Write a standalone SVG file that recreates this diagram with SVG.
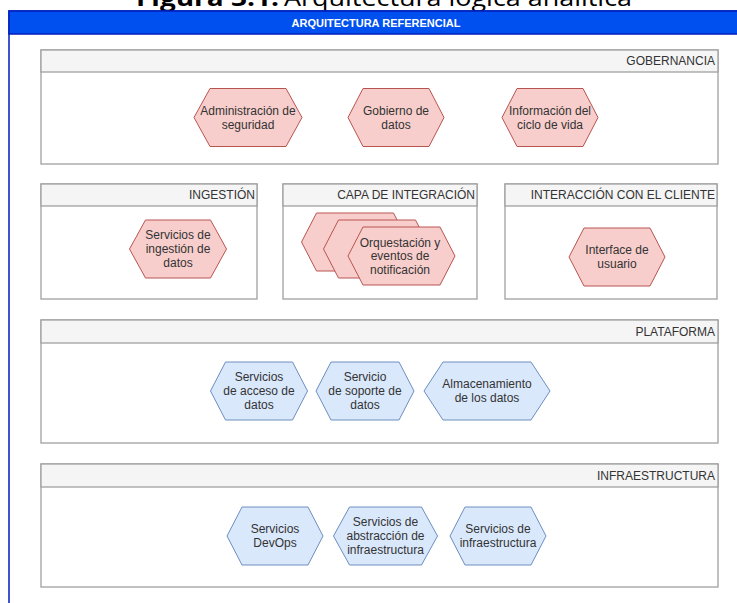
<svg xmlns="http://www.w3.org/2000/svg" width="737" height="603" viewBox="0 0 737 603">
  <style>
    .title { font-family: "Open Sans", "Liberation Sans", sans-serif; font-size: 24px; fill: #000; }
    .bar-label { font-family: "Liberation Sans", Arial, sans-serif; font-size: 11px; font-weight: bold; fill: #fff; text-anchor: middle; }
    .lane { fill: #fff; stroke: #a0a0a0; stroke-width: 1.3; }
    .lane-head { fill: #f5f5f5; stroke: #a0a0a0; stroke-width: 1.3; }
    .lane-label { font-family: "Liberation Sans", Arial, sans-serif; font-size: 12px; fill: #333; text-anchor: end; }
    .hex-red { fill: #f8cecc; stroke: #b85450; stroke-width: 1; }
    .hex-blue { fill: #dae8fc; stroke: #6c8ebf; stroke-width: 1; }
    .hex-text { font-family: "Liberation Sans", Arial, sans-serif; font-size: 12px; fill: #333; text-anchor: middle; }
  </style>

  <rect x="0" y="0" width="737" height="603" fill="#fff"/>

  <!-- Caption, partly cut by the top edge -->
  <text class="title" x="136" y="6" textLength="143" lengthAdjust="spacingAndGlyphs" font-weight="bold">Figura 3.1.</text>
  <text class="title" x="284" y="6" textLength="348" lengthAdjust="spacingAndGlyphs">Arquitectura lógica analítica</text>

  <!-- Outer container -->
  <g id="arquitectura-referencial">
    <rect x="9" y="11" width="740" height="600" fill="#fff" stroke="#001dbc" stroke-width="1.5"/>
    <rect x="9" y="11" width="740" height="23" fill="#0050ef" stroke="#001dbc" stroke-width="1.5"/>
    <text class="bar-label" x="376" y="27">ARQUITECTURA REFERENCIAL</text>
  </g>

  <!-- Lanes -->
  <g id="gobernancia">
    <rect class="lane" x="41" y="50" width="677" height="114"/>
    <rect class="lane-head" x="41" y="50" width="677" height="22"/>
    <text class="lane-label" x="715" y="65">GOBERNANCIA</text>
  </g>
  <g id="ingestion">
    <rect class="lane" x="41" y="184" width="216" height="115"/>
    <rect class="lane-head" x="41" y="184" width="216" height="22"/>
    <text class="lane-label" x="255" y="199">INGESTIÓN</text>
  </g>
  <g id="capa-integracion">
    <rect class="lane" x="283" y="184" width="194" height="115"/>
    <rect class="lane-head" x="283" y="184" width="194" height="22"/>
    <text class="lane-label" x="475" y="199">CAPA DE INTEGRACIÓN</text>
  </g>
  <g id="interaccion-cliente">
    <rect class="lane" x="505" y="184" width="212" height="115"/>
    <rect class="lane-head" x="505" y="184" width="212" height="22"/>
    <text class="lane-label" x="715" y="199">INTERACCIÓN CON EL CLIENTE</text>
  </g>
  <g id="plataforma">
    <rect class="lane" x="41" y="320" width="677" height="123"/>
    <rect class="lane-head" x="41" y="320" width="677" height="23"/>
    <text class="lane-label" x="715" y="336">PLATAFORMA</text>
  </g>
  <g id="infraestructura">
    <rect class="lane" x="41" y="464" width="677" height="123"/>
    <rect class="lane-head" x="41" y="464" width="677" height="23"/>
    <text class="lane-label" x="715" y="480">INFRAESTRUCTURA</text>
  </g>

  <!-- Gobernancia nodes -->
  <g id="admin-seguridad">
    <polygon class="hex-red" points="194,117.5 210,88.5 286,88.5 302,117.5 286,146.5 210,146.5"/>
    <text class="hex-text" x="248" y="115">Administración de</text>
    <text class="hex-text" x="248" y="129">seguridad</text>
  </g>
  <g id="gobierno-datos">
    <polygon class="hex-red" points="348,117.5 363,88.5 429,88.5 444,117.5 429,146.5 363,146.5"/>
    <text class="hex-text" x="396" y="115">Gobierno de</text>
    <text class="hex-text" x="396" y="129">datos</text>
  </g>
  <g id="info-ciclo-vida">
    <polygon class="hex-red" points="502,117.5 517,88.5 583,88.5 598,117.5 583,146.5 517,146.5"/>
    <text class="hex-text" x="550" y="115">Información del</text>
    <text class="hex-text" x="550" y="129">ciclo de vida</text>
  </g>

  <!-- Ingestión node -->
  <g id="servicios-ingestion">
    <polygon class="hex-red" points="129.5,249 145.5,220 210.5,220 226.5,249 210.5,278 145.5,278"/>
    <text class="hex-text" x="178" y="239">Servicios de</text>
    <text class="hex-text" x="178" y="253">ingestión de</text>
    <text class="hex-text" x="178" y="267">datos</text>
  </g>

  <!-- Capa de integración: stacked node -->
  <g id="orquestacion-eventos">
    <polygon class="hex-red" points="301.5,242 316.5,213 393.5,213 408.5,242 393.5,271 316.5,271"/>
    <polygon class="hex-red" points="323.5,249 338.5,220 415.5,220 430.5,249 415.5,278 338.5,278"/>
    <polygon class="hex-red" points="348,256 363,227 440,227 455,256 440,285 363,285"/>
    <text class="hex-text" x="400" y="246.5">Orquestación y</text>
    <text class="hex-text" x="400" y="260">eventos de</text>
    <text class="hex-text" x="400" y="273.5">notificación</text>
  </g>

  <!-- Interacción con el cliente node -->
  <g id="interface-usuario">
    <polygon class="hex-red" points="569,257 584,228 650,228 665,257 650,286 584,286"/>
    <text class="hex-text" x="617" y="254">Interface de</text>
    <text class="hex-text" x="617" y="268">usuario</text>
  </g>

  <!-- Plataforma nodes -->
  <g id="acceso-datos">
    <polygon class="hex-blue" points="210.5,391 225.5,362 292.5,362 307.5,391 292.5,420 225.5,420"/>
    <text class="hex-text" x="259" y="381">Servicios</text>
    <text class="hex-text" x="259" y="395">de acceso de</text>
    <text class="hex-text" x="259" y="409">datos</text>
  </g>
  <g id="soporte-datos">
    <polygon class="hex-blue" points="316,391 331,362 399,362 414,391 399,420 331,420"/>
    <text class="hex-text" x="365" y="381">Servicio</text>
    <text class="hex-text" x="365" y="395">de soporte de</text>
    <text class="hex-text" x="365" y="409">datos</text>
  </g>
  <g id="almacenamiento-datos">
    <polygon class="hex-blue" points="424,391 443,362 531,362 550,391 531,420 443,420"/>
    <text class="hex-text" x="487" y="388">Almacenamiento</text>
    <text class="hex-text" x="487" y="402">de los datos</text>
  </g>

  <!-- Infraestructura nodes -->
  <g id="servicios-devops">
    <polygon class="hex-blue" points="227,536 242,507 308,507 323,536 308,565 242,565"/>
    <text class="hex-text" x="275" y="533">Servicios</text>
    <text class="hex-text" x="275" y="547">DevOps</text>
  </g>
  <g id="abstraccion-infraestructura">
    <polygon class="hex-blue" points="333.5,536 349.5,507 421.5,507 437.5,536 421.5,565 349.5,565"/>
    <text class="hex-text" x="385.5" y="526">Servicios de</text>
    <text class="hex-text" x="385.5" y="540">abstracción de</text>
    <text class="hex-text" x="385.5" y="554">infraestructura</text>
  </g>
  <g id="servicios-infraestructura">
    <polygon class="hex-blue" points="450,536 465,507 531,507 546,536 531,565 465,565"/>
    <text class="hex-text" x="498" y="533">Servicios de</text>
    <text class="hex-text" x="498" y="547">infraestructura</text>
  </g>

  <!-- No connectors between nodes -->
  <g id="connectors"/>
</svg>
